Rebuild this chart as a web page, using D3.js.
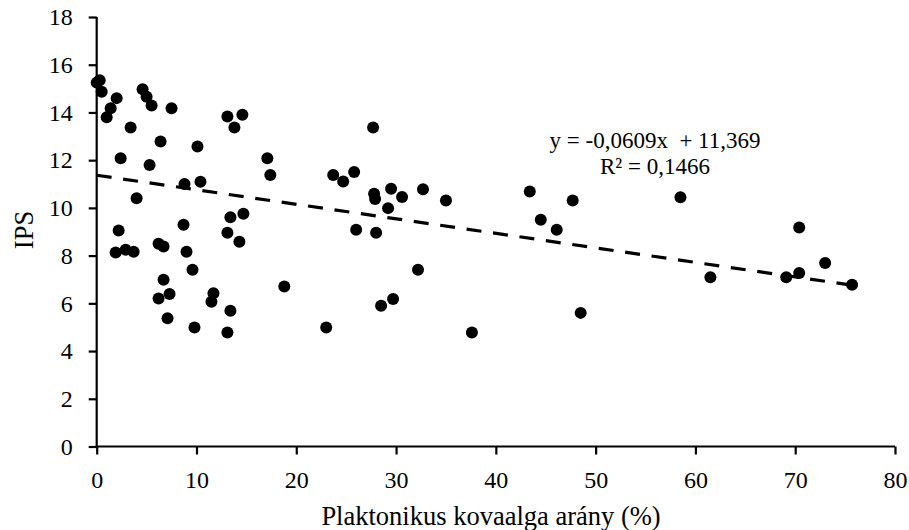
<!DOCTYPE html>
<html><head><meta charset="utf-8">
<script src="https://cdn.jsdelivr.net/npm/d3@7"></script>
<style>body{margin:0;background:#fff}svg{display:block}text{font-family:"Liberation Serif","Times New Roman",serif;fill:#000}</style>
</head><body><svg id="c" width="909" height="530"></svg>
<script>
const xVals=[0,0.3,0.5,1.0,1.4,2.0,2.4,2.2,1.9,2.9,3.7,3.4,4.0,4.6,5.0,5.5,5.3,6.4,7.5,6.2,6.7,6.7,6.2,7.3,7.1,8.7,8.8,9.0,9.6,9.8,10.1,10.4,11.7,11.5,13.1,13.8,14.6,13.1,13.4,14.7,14.3,13.4,13.1,17.1,17.4,18.8,23.0,23.7,24.7,25.8,26.0,27.7,27.8,27.9,29.5,28.0,29.2,30.6,28.5,29.7,32.2,32.7,35.0,37.6,43.4,44.5,46.1,47.7,48.5,58.5,61.5,69.1,70.4,70.4,73.0,75.7];
const yVals=[15.25,15.35,14.87,13.8,14.18,14.6,12.08,9.05,8.13,8.25,8.16,13.37,10.4,14.97,14.66,14.29,11.8,12.78,14.18,8.5,8.38,6.99,6.2,6.39,5.37,9.29,11.0,8.16,7.41,4.99,12.57,11.1,6.42,6.07,13.83,13.37,13.9,8.96,9.61,9.75,8.58,5.69,4.78,12.08,11.38,6.71,4.99,11.38,11.11,11.5,9.08,13.37,10.59,10.37,10.8,8.96,9.99,10.46,5.9,6.18,7.41,10.78,10.31,4.78,10.69,9.5,9.08,10.31,5.6,10.45,7.09,7.09,9.18,7.27,7.69,6.78];
const xTicks=[0,10,20,30,40,50,60,70,80];
const yTicks=[0,2,4,6,8,10,12,14,16,18];
const slope=-0.0609, intercept=11.369;
const eqLines=["y = -0,0609x  + 11,369","R² = 0,1466"];
const xTitle="Plaktonikus kovaalga arány (%)", yTitle="IPS";

const svg=d3.select("#c");
const x=d3.scaleLinear().domain([0,80]).range([96.7,895]);
const y=d3.scaleLinear().domain([0,18]).range([446.5,17]);

const gx=svg.append("g").attr("transform","translate(0,446.5)")
  .call(d3.axisBottom(x).tickValues(xTicks).tickSize(8).tickPadding(16).tickFormat(d3.format("d")));
const gy=svg.append("g").attr("transform","translate(96.7,0)")
  .call(d3.axisLeft(y).tickValues(yTicks).tickSize(8).tickPadding(16).tickFormat(d3.format("d")));
[gx,gy].forEach(g=>{
  g.select(".domain").attr("stroke","#000").attr("stroke-width",2.2);
  g.selectAll(".tick line").attr("stroke","#000").attr("stroke-width",2.2);
  g.selectAll(".tick text").attr("font-size",24).attr("font-family","Liberation Serif");
});
gy.select(".domain").attr("d","M0,446.5V17");
gx.select(".domain").attr("d","M96.7,0H895");

const pts=xVals.map((v,i)=>[v,yVals[i]]);
const xMax=d3.max(xVals), xMin=d3.min(xVals);
svg.append("line")
  .attr("x1",x(xMin)).attr("y1",y(intercept+slope*xMin))
  .attr("x2",x(xMax)).attr("y2",y(intercept+slope*xMax))
  .attr("stroke","#000").attr("stroke-width",3.2).attr("stroke-dasharray","15,11.7");

svg.append("g").selectAll("circle").data(pts).join("circle")
  .attr("cx",d=>x(d[0])).attr("cy",d=>y(d[1])).attr("r",6).attr("fill","#000");

svg.append("g").selectAll("text").data(eqLines).join("text")
  .attr("x",655).attr("y",(d,i)=>148.3+i*26).attr("text-anchor","middle")
  .style("white-space","pre").attr("font-size",23).text(d=>d);

svg.append("text").attr("x",491).attr("y",525).attr("text-anchor","middle").attr("font-size",26.5).text(xTitle);
svg.append("text").attr("transform","translate(33,230) rotate(-90)").attr("text-anchor","middle").attr("font-size",26.5).text(yTitle);
</script></body></html>
